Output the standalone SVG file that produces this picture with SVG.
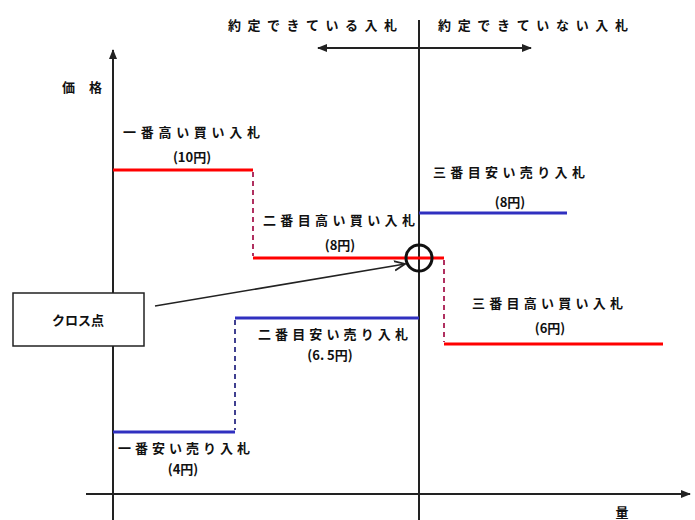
<svg xmlns="http://www.w3.org/2000/svg" width="695" height="520" viewBox="0 0 695 520">
<style>
text{font-family:"Noto Sans CJK JP","Noto Sans",sans-serif;font-size:13px;fill:#111;font-weight:bold}
.ax{stroke:#222;stroke-width:2;fill:none}
.red{stroke:#ff0000;stroke-width:3;fill:none}
.blue{stroke:#3030c0;stroke-width:3;fill:none}
.rd{stroke:#b03060;stroke-width:2;stroke-dasharray:5,4;fill:none}
.bd{stroke:#404090;stroke-width:2;stroke-dasharray:5,4;fill:none}
</style>
<defs>
<marker id="ah" viewBox="0 0 10 10" refX="9" refY="5" markerWidth="10" markerHeight="10" markerUnits="userSpaceOnUse" orient="auto-start-reverse"><path d="M0,1 L10,5 L0,9 z" fill="#222"/></marker>
<marker id="oa" viewBox="0 0 10 10" refX="9" refY="5" markerWidth="12" markerHeight="12" markerUnits="userSpaceOnUse" orient="auto"><path d="M0,1 L9,5 L0,9" fill="none" stroke="#222" stroke-width="1.5"/></marker>
</defs>
<rect width="695" height="520" fill="#fff"/>
<g id="connectors">
<line class="ax" x1="113" y1="520" x2="113" y2="50" marker-end="url(#ah)"/>
<line class="ax" x1="86" y1="494" x2="690" y2="494" marker-end="url(#ah)"/>
<line class="ax" x1="419" y1="20" x2="419" y2="520"/>
<line class="ax" x1="318" y1="48" x2="531" y2="48" stroke-width="1.5" marker-start="url(#ah)" marker-end="url(#ah)"/>
<polyline class="red" points="113,170 253,170"/>
<line class="rd" x1="253" y1="172" x2="253" y2="256"/>
<polyline class="red" points="253,258 444,258"/>
<line class="rd" x1="444" y1="260" x2="444" y2="342"/>
<polyline class="red" points="444,344 663,344"/>
<polyline class="blue" points="419,213 567,213"/>
<polyline class="blue" points="235,318 419,318"/>
<line class="bd" x1="235" y1="320" x2="235" y2="430"/>
<polyline class="blue" points="113,432 235,432"/>
<line x1="155" y1="306" x2="405" y2="264" stroke="#222" stroke-width="1.5" marker-end="url(#oa)"/>
</g>
<g id="cross-point">
<circle cx="419" cy="258" r="13" fill="none" stroke="#111" stroke-width="3"/>
</g>
<g id="label-box">
<rect x="13" y="293" width="131" height="53" fill="#fff" stroke="#222" stroke-width="1.5"/>
<text x="78" y="325" text-anchor="middle">クロス点</text>
</g>
<g id="labels">
<text x="228" y="30" textLength="169" lengthAdjust="spacing">約定できている入札</text>
<text x="438" y="30" textLength="190" lengthAdjust="spacing">約定できていない入札</text>
<text x="62" y="92" textLength="40" lengthAdjust="spacing">価格</text>
<text x="622" y="517" text-anchor="middle">量</text>
</g>
<g id="bid1">
<text x="123" y="137" textLength="137" lengthAdjust="spacing">一番高い買い入札</text>
<text x="192" y="162" text-anchor="middle">(10円)</text>
</g>
<g id="bid2">
<text x="263" y="225" textLength="152" lengthAdjust="spacing">二番目高い買い入札</text>
<text x="340" y="250" text-anchor="middle">(8円)</text>
</g>
<g id="bid3">
<text x="472" y="308" textLength="151" lengthAdjust="spacing">三番目高い買い入札</text>
<text x="550" y="333" text-anchor="middle">(6円)</text>
</g>
<g id="ask3">
<text x="433" y="177" textLength="152" lengthAdjust="spacing">三番目安い売り入札</text>
<text x="510" y="207" text-anchor="middle">(8円)</text>
</g>
<g id="ask2">
<text x="258" y="339" textLength="150" lengthAdjust="spacing">二番目安い売り入札</text>
<text x="330" y="360" text-anchor="middle">(6. 5円)</text>
</g>
<g id="ask1">
<text x="118" y="453" textLength="132" lengthAdjust="spacing">一番安い売り入札</text>
<text x="183" y="474" text-anchor="middle">(4円)</text>
</g>
</svg>
